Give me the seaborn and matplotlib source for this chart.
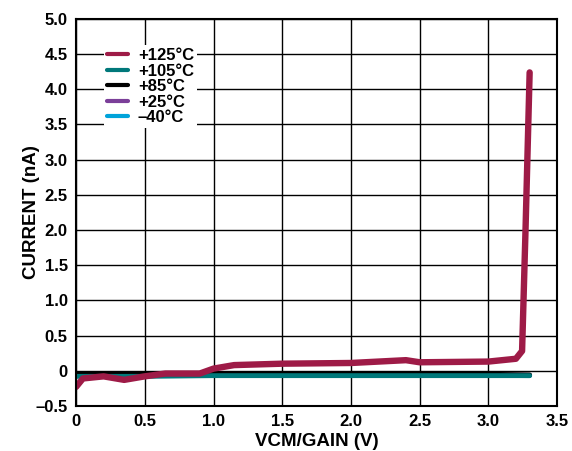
import matplotlib
matplotlib.use("Agg")
import matplotlib.pyplot as plt
import seaborn as sns
import pandas as pd

# curve values
x_125 = [0.0, 0.05, 0.2, 0.35, 0.5, 0.65, 0.9, 1.0, 1.15, 1.5, 2.0, 2.4, 2.5, 3.0, 3.2, 3.245, 3.27, 3.3]
y_125 = [-0.23, -0.11, -0.08, -0.13, -0.08, -0.04, -0.04, 0.03, 0.08, 0.10, 0.11, 0.15, 0.12, 0.13, 0.17, 0.28, 2.0, 4.24]

x_flat = [0.0, 0.5, 1.0, 1.5, 2.0, 2.5, 3.0, 3.3]
y_105 = [-0.08, -0.08, -0.07, -0.07, -0.07, -0.07, -0.07, -0.07]
y_85 = [-0.05, -0.05, -0.05, -0.05, -0.05, -0.05, -0.05, -0.06]
y_25 = [-0.06, -0.06, -0.06, -0.06, -0.06, -0.06, -0.06, -0.065]
y_m40 = [-0.07, -0.07, -0.065, -0.065, -0.065, -0.065, -0.065, -0.07]

labels = ["+125°C", "+105°C", "+85°C", "+25°C", "\u201340°C"]
colors = ["#9E1B47", "#00787A", "#000000", "#7B3F99", "#00A3DA"]

frames = [pd.DataFrame({"x": x_125, "y": y_125, "temp": labels[0]})]
for lab, ys in zip(labels[1:], [y_105, y_85, y_25, y_m40]):
    frames.append(pd.DataFrame({"x": x_flat, "y": ys, "temp": lab}))
df = pd.concat(frames, ignore_index=True)

sns.set_style("white")
plt.rcParams["font.family"] = ["Liberation Sans", "DejaVu Sans"]
plt.rcParams["font.weight"] = "bold"
plt.rcParams["text.color"] = "black"
plt.rcParams["axes.labelcolor"] = "black"
plt.rcParams["xtick.color"] = "black"
plt.rcParams["ytick.color"] = "black"

fig = plt.figure(figsize=(5.72, 4.51), dpi=100)
ax = fig.add_axes([0.133, 0.100, 0.841, 0.858])

# draw flat ones first, red on top
order = [labels[4], labels[3], labels[2], labels[1], labels[0]]
for lab in order:
    sub = df[df["temp"] == lab]
    c = colors[labels.index(lab)]
    sns.lineplot(data=sub, x="x", y="y", ax=ax, color=c, lw=4.6 if lab == labels[0] else 3.5,
                 sort=False, estimator=None, label=lab, solid_capstyle="round")

ax.set_xlim(0, 3.5)
ax.set_ylim(-0.5, 5.0)
ax.set_xticks([0, 0.5, 1.0, 1.5, 2.0, 2.5, 3.0, 3.5])
ax.set_xticklabels(["0", "0.5", "1.0", "1.5", "2.0", "2.5", "3.0", "3.5"])
ax.set_yticks([-0.5, 0, 0.5, 1.0, 1.5, 2.0, 2.5, 3.0, 3.5, 4.0, 4.5, 5.0])
ax.set_yticklabels(["\u20130.5", "0", "0.5", "1.0", "1.5", "2.0", "2.5", "3.0", "3.5", "4.0", "4.5", "5.0"])
ax.grid(True, color="black", lw=1.0)
ax.set_axisbelow(True)
for s in ax.spines.values():
    s.set_color("black")
    s.set_linewidth(1.5)
ax.tick_params(labelsize=12, length=0, pad=6, colors="black")
for t in ax.get_xticklabels() + ax.get_yticklabels():
    t.set_fontweight("bold")
ax.set_xlabel("VCM/GAIN (V)", fontsize=13.5, fontweight="bold", labelpad=3)
ax.set_ylabel("CURRENT (nA)", fontsize=13.5, fontweight="bold", labelpad=-3)

handles, labs = ax.get_legend_handles_labels()
hmap = dict(zip(labs, handles))
leg = ax.legend([hmap[l] for l in labels], labels, loc="upper left", bbox_to_anchor=(0.04, 0.955),
                frameon=True, facecolor="white", edgecolor="none", framealpha=1,
                handlelength=1.25, handletextpad=0.6, labelspacing=0.03,
                borderpad=0.2, prop={"weight": "bold", "size": 12})
for h in leg.get_lines():
    h.set_linewidth(3.0)
    h.set_solid_capstyle("round")
for t in leg.get_texts():
    t.set_color("black")

fig.savefig("out.png", dpi=100)
